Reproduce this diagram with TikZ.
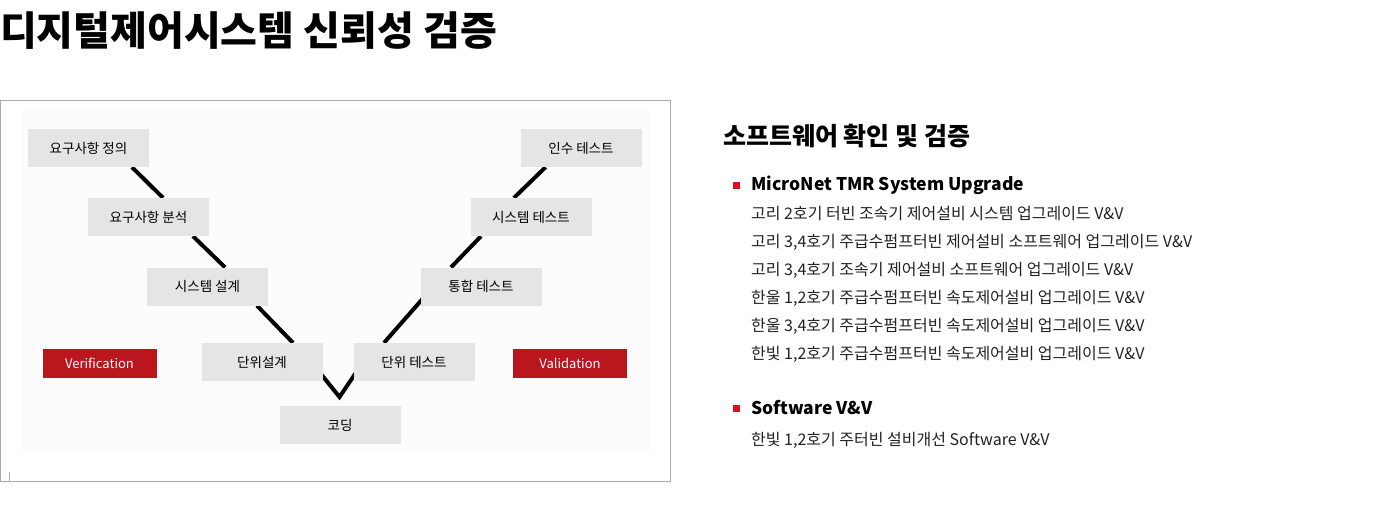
\documentclass[tikz,border=0pt]{standalone}
\usepackage{fontspec}
\setmainfont{Noto Sans CJK KR}
\pgfdeclarelayer{bgfill}
\pgfdeclarelayer{lines}
\pgfsetlayers{bgfill,lines,main}
\definecolor{boxgray}{HTML}{E5E5E5}
\definecolor{innerbg}{HTML}{FCFCFC}
\definecolor{framegray}{HTML}{AAAAAA}
\definecolor{vred}{HTML}{B9161E}
\definecolor{bulletred}{HTML}{D7121F}
\definecolor{bodytext}{HTML}{222222}
\tikzset{
  vbox/.style={fill=boxgray, minimum width=121, minimum height=38, inner sep=0,
    font=\fontsize{13.5}{15}\selectfont},
  redbox/.style={fill=vred, text=white, minimum width=114, minimum height=29, inner sep=0,
    font=\fontsize{13}{15}\selectfont},
  vline/.style={line width=4, black},
  bullet/.style={fill=bulletred, minimum width=7, minimum height=7, inner sep=0},
  bodyline/.style={anchor=west, inner sep=0, text=bodytext, font=\fontsize{16}{18}\selectfont},
  header/.style={anchor=west, inner sep=0, text=black, font=\fontsize{17.5}{20}\selectfont\bfseries},
}
\begin{document}
\begin{tikzpicture}[x=1pt,y=-1pt]
\useasboundingbox (0,0) rectangle (1400,512);
\begin{pgfonlayer}{bgfill}
\fill[white] (0,0) rectangle (1400,512);
\draw[framegray, line width=1] (0.5,100.5) rectangle (670,481);
\fill[innerbg] (22,110) rectangle (650,453);
\draw[framegray, line width=0.8] (9.5,472) -- (9.5,481);
\end{pgfonlayer}
% title
\node[anchor=west, inner sep=0, font=\fontsize{40}{44}\selectfont\bfseries] (title) at (0,31) {디지털제어시스템 신뢰성 검증};
% boxes
\node[vbox] (def1) at (88.5,148) {요구사항 정의};
\node[vbox] (ana) at (148.5,217) {요구사항 분석};
\node[vbox] (sysd) at (207.5,286.5) {시스템 설계};
\node[vbox] (unitd) at (262,362) {단위설계};
\node[vbox] (code) at (340,425) {코딩};
\node[vbox] (unitt) at (414,362) {단위 테스트};
\node[vbox] (integ) at (481,286.5) {통합 테스트};
\node[vbox] (syst) at (531,217) {시스템 테스트};
\node[vbox] (acc) at (581,148) {인수 테스트};
\node[redbox] (ver) at (99.5,363) {Verification};
\node[redbox] (val) at (570,363) {Validation};
\coordinate (vtx) at (339.5,397);
% lines
\begin{pgfonlayer}{lines}
\draw[vline] ([xshift=43.5]def1.south) -- ([xshift=14.5]ana.north);
\draw[vline] ([xshift=44.5]ana.south) -- ([xshift=17.5]sysd.north);
\draw[vline] ([xshift=49.5]sysd.south) -- ([xshift=31]unitd.north);
\draw[vline, line join=miter] ([xshift=-6,yshift=12.5]unitd.south east) -- (vtx) -- ([xshift=6,yshift=13.5]unitt.south west);
\draw[vline] ([xshift=-30]unitt.north) -- ([xshift=9,yshift=14.5]integ.south west);
\draw[vline] ([xshift=-30]integ.north) -- ([xshift=-50]syst.south);
\draw[vline] ([xshift=-17]syst.north) -- ([xshift=-35.5]acc.south);
\end{pgfonlayer}
% right side
\node[anchor=west, inner sep=0, font=\fontsize{25}{28}\selectfont\bfseries] (sub) at (723,136) {소프트웨어 확인 및 검증};
\node[bullet] (b1) at (736.5,185.5) {};
\node[header] (h1) at (751,185) {MicroNet TMR System Upgrade};
\node[bodyline] (l1) at (751,214) {고리 2호기 터빈 조속기 제어설비 시스템 업그레이드 V\&V};
\node[bodyline] (l2) at (751,242) {고리 3,4호기 주급수펌프터빈 제어설비 소프트웨어 업그레이드 V\&V};
\node[bodyline] (l3) at (751,270) {고리 3,4호기 조속기 제어설비 소프트웨어 업그레이드 V\&V};
\node[bodyline] (l4) at (751,298) {한울 1,2호기 주급수펌프터빈 속도제어설비 업그레이드 V\&V};
\node[bodyline] (l5) at (751,326) {한울 3,4호기 주급수펌프터빈 속도제어설비 업그레이드 V\&V};
\node[bodyline] (l6) at (751,354) {한빛 1,2호기 주급수펌프터빈 속도제어설비 업그레이드 V\&V};
\node[bullet] (b2) at (736.5,408.5) {};
\node[header] (h2) at (751,408) {Software V\&V};
\node[bodyline] (l7) at (751,440) {한빛 1,2호기 주터빈 설비개선 Software V\&V};
\end{tikzpicture}
\end{document}
